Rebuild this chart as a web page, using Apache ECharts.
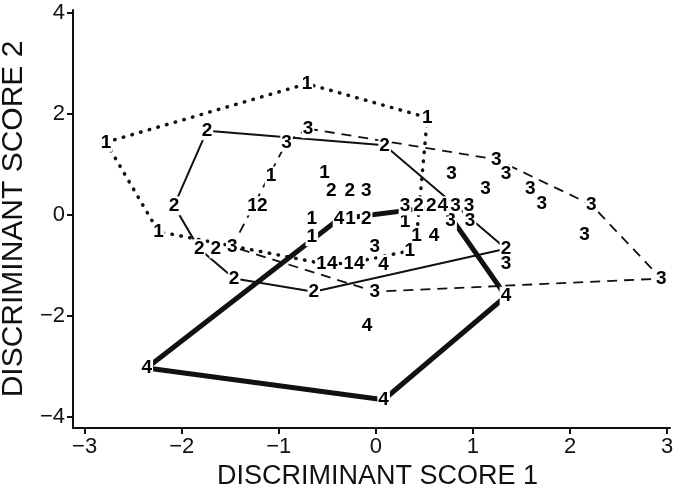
<!DOCTYPE html>
<html>
<head>
<meta charset="utf-8">
<script src="https://cdn.jsdelivr.net/npm/echarts@6/dist/echarts.min.js"></script>
<style>
html,body{margin:0;padding:0;background:#fff;}
#main{width:676px;height:498px;}
</style>
</head>
<body>
<div id="main"></div>
<script>
// points per group, hull vertices first (in drawing order), then interior points
var group1 = [[-2.78,1.44],[-0.71,2.60],[0.53,1.93],[0.42,-0.41],[0.35,-0.71],[-0.28,-0.96],[-0.56,-0.96],[-2.24,-0.33],
  [-1.08,0.77],[-1.27,0.18],[-0.53,0.83],[-0.66,-0.08],[-0.66,-0.43],[-0.26,-0.08],[0.30,-0.14]];
var group2 = [[-1.74,1.67],[0.09,1.38],[1.34,-0.67],[-0.64,-1.52],[-1.46,-1.26],[-1.82,-0.67],[-2.08,0.18],
  [-1.17,0.18],[-0.46,0.47],[-0.27,0.47],[-0.10,-0.08],[0.44,0.18],[0.57,0.18],[-1.65,-0.67]];
var group3 = [[-0.70,1.71],[1.24,1.10],[2.22,0.20],[2.94,-1.26],[-0.01,-1.52],[-1.48,-0.63],[-0.92,1.44],
  [1.34,0.81],[0.78,0.81],[1.13,0.51],[1.59,0.51],[1.71,0.22],[2.15,-0.39],[1.34,-0.96],[-0.01,-0.63],
  [-0.10,0.47],[0.30,0.18],[0.82,0.18],[0.96,0.18],[0.77,-0.12],[0.97,-0.12]];
var group4 = [[-2.36,-3.03],[-0.38,-0.08],[0.69,0.18],[1.34,-1.61],[0.08,-3.66],
  [-0.09,-2.19],[0.60,-0.41],[-0.45,-0.96],[-0.17,-0.96],[0.08,-0.98]];
var hull1 = [0,1,2,3,4,5,6,7];
var hull2 = [0,1,2,3,4,5,6];
var hull3 = [0,1,2,3,4,5,6];
var hull4 = [0,1,2,3,4];
var xTicks = [-3,-2,-1,0,1,2,3];
var yTicks = [-4,-2,0,2,4];

var FONT = 'Liberation Sans';

function ring(pts, idx){
    var r = idx.map(function(i){return pts[i];});
    r.push(pts[idx[0]]);
    return r;
}
function hullSeries(pts, idx, style){
    return {type:'line', data:ring(pts, idx), symbol:'none', silent:true, z:2,
        lineStyle:style, animation:false};
}
function labelSeries(pts, name){
    return {type:'scatter', data:pts, symbol:'circle', symbolSize:0.1, z:5, silent:true, animation:false,
        itemStyle:{color:'#fff'},
        label:{show:true, position:'inside', formatter:name, color:'#000',
            textBorderWidth:0, opacity:1,
            fontFamily:FONT, fontWeight:'bold', fontSize:19,
            backgroundColor:'#fff', padding:[0,1]}};
}
function minus(v){return String(v).replace('-', '\u2212');}

var chart = echarts.init(document.getElementById('main'));
chart.setOption({
    animation:false,
    grid:{left:73, right:6, top:10, bottom:70, containLabel:false, outerBoundsMode:'none'},
    xAxis:{type:'value', min:-3.12, max:3.03,
        name:'DISCRIMINANT SCORE 1', nameLocation:'middle', nameGap:34,
        nameTextStyle:{fontFamily:FONT, fontSize:27, color:'#111', padding:[0,0,0,12]},
        axisLine:{onZero:false, lineStyle:{color:'#111', width:2}},
        axisTick:{customValues:xTicks, length:6, lineStyle:{color:'#111', width:2}},
        axisLabel:{customValues:xTicks, formatter:minus, fontFamily:FONT, fontSize:22, color:'#111', margin:8},
        splitLine:{show:false}},
    yAxis:{type:'value', min:-4.22, max:4.06,
        name:'DISCRIMINANT SCORE 2', nameLocation:'middle', nameGap:41,
        nameTextStyle:{fontFamily:FONT, fontSize:30, color:'#111'},
        axisLine:{onZero:false, lineStyle:{color:'#111', width:2}},
        axisTick:{customValues:yTicks, length:6, lineStyle:{color:'#111', width:2}},
        axisLabel:{customValues:yTicks, formatter:minus, fontFamily:FONT, fontSize:22, color:'#111', margin:8},
        splitLine:{show:false}},
    series:[
        hullSeries(group1, hull1, {color:'#111', width:3.5, type:[0.5,8.5], cap:'round'}),
        hullSeries(group2, hull2, {color:'#111', width:2}),
        hullSeries(group3, hull3, {color:'#111', width:1.8, type:[10,7]}),
        hullSeries(group4, hull4, {color:'#111', width:5}),
        labelSeries(group1, '1'),
        labelSeries(group2, '2'),
        labelSeries(group3, '3'),
        labelSeries(group4, '4')
    ]
});
</script>
</body>
</html>
